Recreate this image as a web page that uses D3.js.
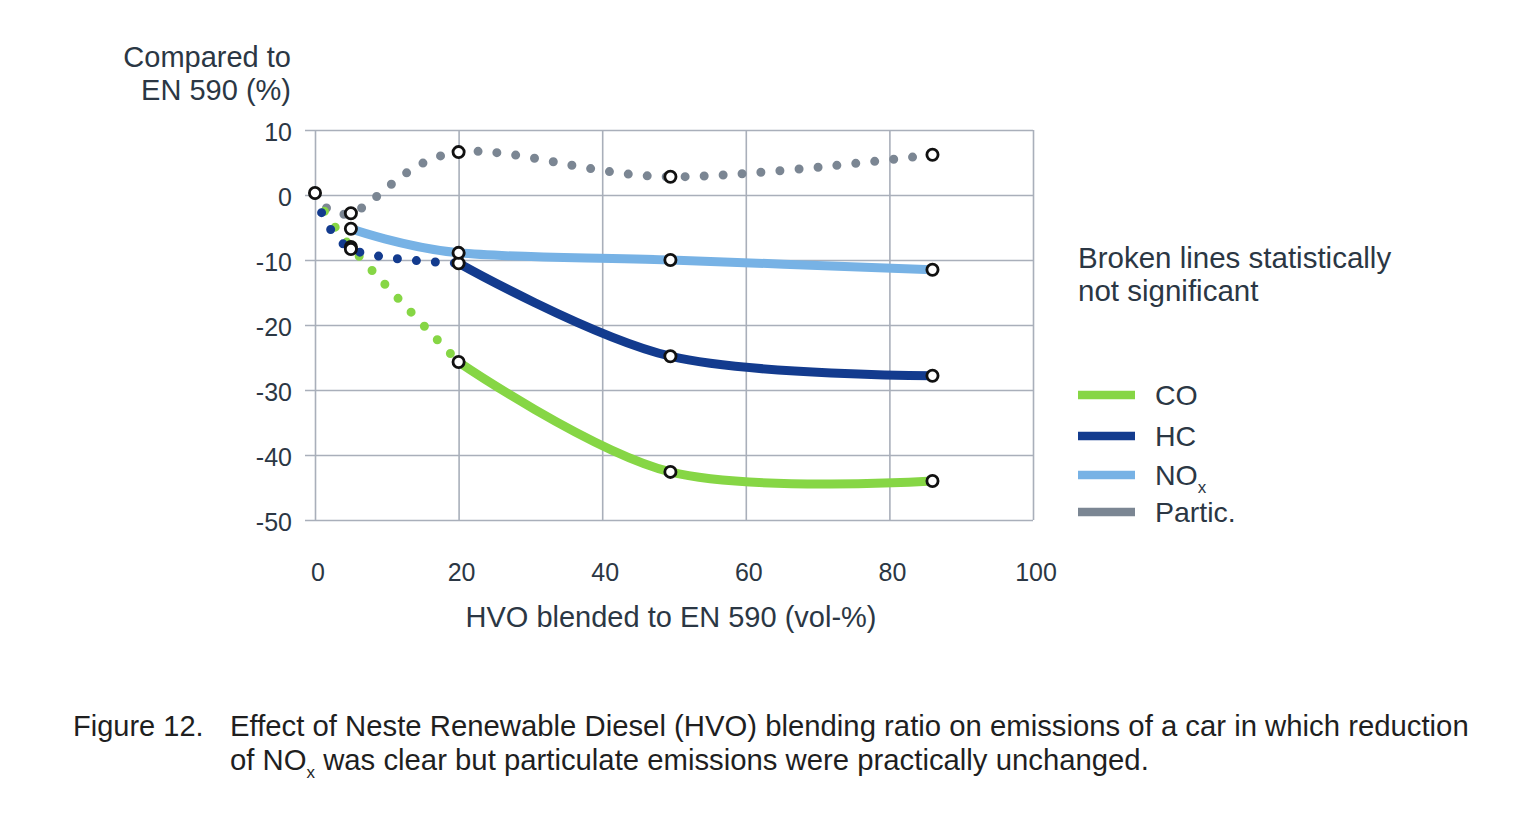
<!DOCTYPE html>
<html><head><meta charset="utf-8">
<script src="https://cdn.jsdelivr.net/npm/d3@7"></script>
<style>
body{margin:0;background:#fff}
svg{display:block}
text{font-family:"Liberation Sans",Arial,Helvetica,sans-serif}
</style>
</head><body>
<svg id="c" width="1532" height="824"></svg>
<script>
// ---- data ----
const blendPct = [0, 5, 20, 49.5, 86];
const coValues = [0, -8.0, -25.7, -42.6, -44.0];
const hcValues = [0, -8.3, -10.5, -24.8, -27.8];
const noxValues = [0, -5.2, -8.9, -10.0, -11.5];
const particValues = [0.3, -2.8, 6.6, 2.8, 6.2];
const seriesNames = ["CO", "HC", "NOx", "Partic."];
const seriesValues = [coValues, hcValues, noxValues, particValues];
// index ranges of the broken (not significant) and solid parts
const dottedRanges = [[0, 2], [0, 2], null, [0, 4]];
const solidRanges = [[2, 4], [2, 4], [1, 4], null];
const markerFrom = [1, 1, 1, 0];
const xTicks = [0, 20, 40, 60, 80, 100];
const yTicks = [10, 0, -10, -20, -30, -40, -50];

// ---- styles ----
const colors = ["#86d645", "#133b8e", "#77b2e5", "#7b8693"];
const gridColor = "#a9afba";
const textColor = "#2b3744";
const font = "Liberation Sans, Arial, sans-serif";

const svg = d3.select("#c");
svg.append("rect").attr("width", 1532).attr("height", 824).attr("fill", "#fff");

const x = d3.scaleLinear().domain([0, 100]).range([315, 1033]);
const y = d3.scaleLinear().domain([-50, 10]).range([520, 130]);

// y axis + horizontal grid
const gy = svg.append("g").attr("transform", "translate(305,0)")
  .call(d3.axisLeft(y).tickValues(yTicks).tickSize(-(1033 - 305)).tickPadding(13).tickFormat(d => String(d)));
gy.select(".domain").remove();
gy.selectAll(".tick line").attr("stroke", gridColor).attr("stroke-width", 1.6);
gy.selectAll(".tick text").attr("fill", textColor).attr("font-size", 25).attr("font-family", font).attr("dy", "0.42em");

// x axis + vertical grid
const gx = svg.append("g").attr("transform", "translate(0,520)")
  .call(d3.axisBottom(x).tickValues(xTicks).tickSize(-390).tickPadding(43).tickFormat(d => String(d)));
gx.select(".domain").remove();
gx.selectAll(".tick line").attr("stroke", gridColor).attr("stroke-width", 1.6);
gx.selectAll(".tick text").attr("fill", textColor).attr("font-size", 25).attr("font-family", font).attr("dx", "0.1em");

// axis titles
svg.append("text").attr("x", 291).attr("y", 67).attr("text-anchor", "end")
  .attr("font-size", 29).attr("fill", textColor).text("Compared to");
svg.append("text").attr("x", 291).attr("y", 100).attr("text-anchor", "end")
  .attr("font-size", 29).attr("fill", textColor).text("EN 590 (%)");
svg.append("text").attr("x", 671).attr("y", 627).attr("text-anchor", "middle")
  .attr("font-size", 29).attr("fill", textColor).text("HVO blended to EN 590 (vol-%)");

// lines
const line = d3.line().x(d => x(d[0])).y(d => y(d[1])).curve(d3.curveCardinal.tension(0));
const drawOrder = [3, 0, 1, 2];
drawOrder.forEach(i => {
  const pts = blendPct.map((b, k) => [b, seriesValues[i][k]]);
  if (dottedRanges[i]) {
    const [a, b] = dottedRanges[i];
    svg.append("path").attr("d", line(pts.slice(a, b + 1)))
      .attr("fill", "none").attr("stroke", colors[i]).attr("stroke-width", 9)
      .attr("stroke-linecap", "round").attr("stroke-dasharray", "0 19");
  }
  if (solidRanges[i]) {
    const [a, b] = solidRanges[i];
    svg.append("path").attr("d", line(pts.slice(a, b + 1)))
      .attr("fill", "none").attr("stroke", colors[i]).attr("stroke-width", 9)
      .attr("stroke-linecap", "butt");
  }
});

// markers
drawOrder.forEach(i => {
  const pts = blendPct.map((b, k) => [b, seriesValues[i][k]]).slice(markerFrom[i]);
  svg.append("g").selectAll("circle").data(pts).join("circle")
    .attr("cx", d => x(d[0])).attr("cy", d => y(d[1])).attr("r", 5.6)
    .attr("fill", "#fff").attr("stroke", "#111").attr("stroke-width", 2.8);
});

// note
svg.append("text").attr("x", 1078).attr("y", 268).attr("font-size", 29.5).attr("fill", textColor)
  .text("Broken lines statistically");
svg.append("text").attr("x", 1078).attr("y", 301).attr("font-size", 29.5).attr("fill", textColor)
  .text("not significant");

// legend
const legendY = [395, 436, 475, 512];
const lg = svg.append("g");
seriesNames.forEach((name, i) => {
  lg.append("line").attr("x1", 1078).attr("x2", 1135).attr("y1", legendY[i]).attr("y2", legendY[i])
    .attr("stroke", colors[i]).attr("stroke-width", 8.5);
  const t = lg.append("text").attr("x", 1155).attr("y", legendY[i] + 10).attr("font-size", 28.5).attr("fill", textColor);
  if (name === "NOx") {
    t.append("tspan").text("NO");
    t.append("tspan").attr("font-size", 17).attr("dy", 8).text("x");
  } else {
    t.text(name);
  }
});

// caption
const capColor = "#1f1f1f";
svg.append("text").attr("x", 73).attr("y", 736).attr("font-size", 29).attr("fill", capColor).text("Figure 12.");
svg.append("text").attr("x", 230).attr("y", 736).attr("font-size", 29.3).attr("fill", capColor)
  .text("Effect of Neste Renewable Diesel (HVO) blending ratio on emissions of a car in which reduction");
const c2 = svg.append("text").attr("x", 230).attr("y", 770).attr("font-size", 29.3).attr("fill", capColor);
c2.append("tspan").text("of NO");
c2.append("tspan").attr("font-size", 17).attr("dy", 8).text("x");
c2.append("tspan").attr("dy", -8).text(" was clear but particulate emissions were practically unchanged.");
</script>
</body></html>
